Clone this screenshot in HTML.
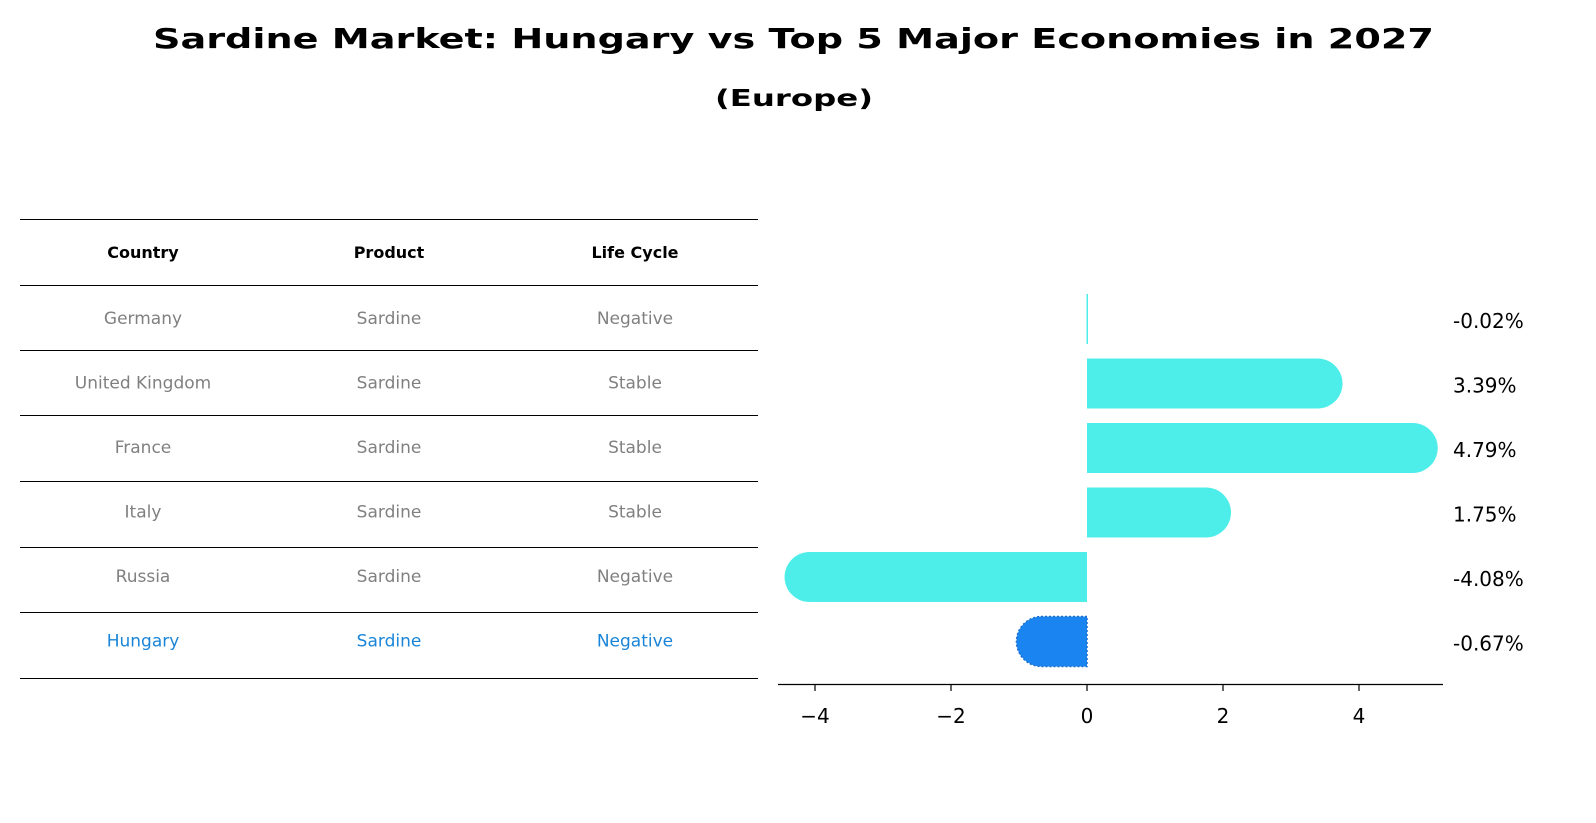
<!DOCTYPE html>
<html><head><meta charset="utf-8"><style>
body{margin:0;background:#fff;font-family:"DejaVu Sans","Liberation Sans",sans-serif;}
#wrap{position:relative;width:1596px;height:823px;overflow:hidden;}
</style></head><body>
<div id="wrap">
<svg id="svg" width="1596" height="823" style="position:absolute;left:0;top:0;font-family:'DejaVu Sans','Liberation Sans',sans-serif">
<text x="153" y="48" textLength="1281" lengthAdjust="spacingAndGlyphs" font-size="28" font-weight="bold">Sardine Market: Hungary vs Top 5 Major Economies in 2027</text>
<text x="715" y="106" textLength="158" lengthAdjust="spacingAndGlyphs" font-size="23" font-weight="bold">(Europe)</text>
</svg>
</div>
<script>
const countries=["Germany","United Kingdom","France","Italy","Russia","Hungary"];
const products=["Sardine","Sardine","Sardine","Sardine","Sardine","Sardine"];
const lifeCycles=["Negative","Stable","Stable","Stable","Negative","Negative"];
const growth=[-0.02,3.39,4.79,1.75,-4.08,-0.67];
const xTicks=[-4,-2,0,2,4];

const NS="http://www.w3.org/2000/svg";
const svg=document.getElementById('svg');
function mk(tag,attrs,name,txt){const e=document.createElementNS(NS,tag);for(const k in attrs)e.setAttribute(k,attrs[k]);


if(txt!==undefined)e.textContent=txt;svg.appendChild(e);return e;}
const x=v=>1087+v*68;
const rowY=i=>319+i*64.5;
const lineYs=[219,285,350,415,481,547,612,678];
const colX=[143,389,635];
lineYs.forEach(y=>mk('line',{x1:20,x2:758,y1:y+0.5,y2:y+0.5,stroke:'#000','stroke-width':1},'table-rule'));
["Country","Product","Life Cycle"].forEach((h,j)=>mk('text',{x:colX[j],y:258,'text-anchor':'middle','font-size':16,'font-weight':'bold',fill:'#000'},'table-header-'+h.toLowerCase().replace(' ','-'),h));
countries.forEach((c,i)=>{
 const col=i===countries.length-1?'#1a85d8':'#808080';
 const y=rowY(i)+5;
 [c,products[i],lifeCycles[i]].forEach((v,j)=>mk('text',{x:colX[j],y:y,'text-anchor':'middle','font-size':17,fill:col},'table-cell',v));
});
const h=50,r=25;
growth.forEach((v,i)=>{
 const yc=rowY(i),y0=yc-h/2,x0=x(0),x1=x(v);
 const hung=i===growth.length-1;
 const fill=hung?'#1a85f0':'#4deeea';
 const s=v>=0?1:-1;
 let d;
 if(Math.abs(x1-x0)<2){d=`M${x0-0.5},${y0}h1.5v${h}h-1.5z`;}
 else d=`M${x0},${y0}L${x1},${y0}A${r},${r} 0 0 ${s>0?1:0} ${x1},${y0+h}L${x0},${y0+h}Z`;
 const p=mk('path',{d:d,fill:fill},'bar-'+countries[i].toLowerCase().replace(' ','-'));
 if(hung){p.setAttribute('stroke','#1a6fd0');p.setAttribute('stroke-dasharray','2,2');p.setAttribute('stroke-width','1.5');}
 mk('text',{x:1453,y:yc+9,'font-size':20,fill:'#000'},'value-label',v.toFixed(2)+'%');
});
mk('line',{x1:778,x2:1443,y1:684.5,y2:684.5,stroke:'#000','stroke-width':1.3},'x-axis');
xTicks.forEach(t=>{mk('line',{x1:x(t),x2:x(t),y1:684,y2:691,stroke:'#000','stroke-width':1.2},'x-tick');
mk('text',{x:x(t),y:723,'text-anchor':'middle','font-size':20,fill:'#000'},'x-tick-label',t<0?'\u2212'+Math.abs(t):String(t));});
</script>
</body></html>
